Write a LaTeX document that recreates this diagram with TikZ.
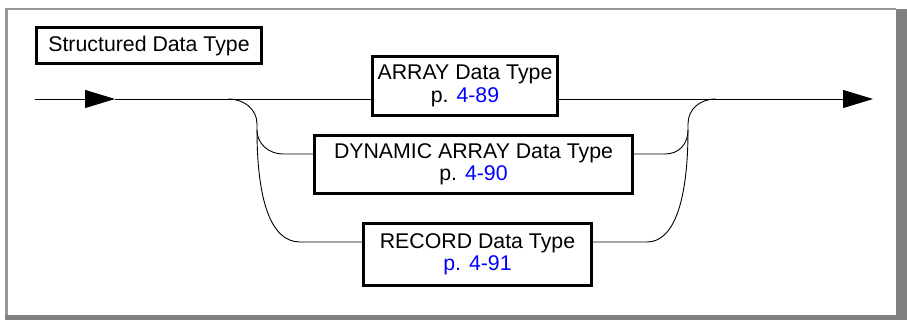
\documentclass[tikz,border=0pt]{standalone}
\usepackage{fontspec}
\setmainfont{Liberation Sans}
\usetikzlibrary{arrows.meta}
\definecolor{framegray}{RGB}{128,128,128}
\definecolor{framelight}{RGB}{150,150,150}
\definecolor{pageblue}{RGB}{0,0,255}
\newcommand{\pagelink}[1]{\textcolor{pageblue}{#1}}
\tikzset{
  synbox/.style={
    draw=black,
    line width=3.1pt,
    align=center,
    inner sep=0pt,
    font=\fontsize{21.3}{22.5}\selectfont
  },
  rail/.style={line width=0.9pt},
  head/.style={-{Triangle[length=30pt,width=18pt]}, line width=0.9pt}
}

\begin{document}
\begin{tikzpicture}[x=1pt,y=-1pt]
        \useasboundingbox (0,0) rectangle (907,320);
        \fill[white] (0,0) rectangle (907,320);
        \fill[framelight] (5,8) rectangle (896,10);
        \fill[framelight] (5,8) rectangle (8,315);
        \fill[framegray] (896,9) rectangle (907,320);
        \fill[framegray] (5,315) rectangle (907,320);

        \node[synbox, minimum width=225pt, minimum height=36pt] (sdt) at (149,45.5) {Structured Data Type};
        \node[synbox, minimum width=185pt, minimum height=59pt] (arr) at (465,86) {ARRAY Data Type\\p. \pagelink{4-89}};
        \node[synbox, minimum width=318pt, minimum height=58pt] (dyn) at (473.5,164.5) {DYNAMIC ARRAY Data Type\\p. \pagelink{4-90}};
        \node[synbox, minimum width=228pt, minimum height=62pt] (rec) at (477.5,254.5) {RECORD Data Type\\\pagelink{p. 4-91}};

        \coordinate (in) at (35,99);
        \coordinate (tipL) at (115,99);
        \coordinate (tipR) at (873,99);
        \coordinate (splitL) at (228,99);
        \coordinate (splitR) at (716,99);
        \coordinate (vL1) at (257,124);
        \coordinate (vL2) at (257,130);
        \coordinate (vR1) at (688,124);
        \coordinate (vR2) at (688,130);
        \coordinate (dynL) at (283,154);
        \coordinate (dynR) at (665,154);
        \coordinate (recL) at (300,242);
        \coordinate (recR) at (647,242);

        \draw[head] (in) -- (tipL);
        \draw[rail] (tipL) -- (arr.west |- tipL);
        \draw[head] (arr.east |- tipL) -- (tipR);
        \draw[rail] (splitL) .. controls +(16,0) and +(0,-15) .. (vL1) -- (vL2)
          .. controls +(0,14) and +(-14,0) .. (dynL) -- (dyn.west |- dynL);
        \draw[rail] (vL2) .. controls +(0,68) and +(-30,0) .. (recL) -- (rec.west |- recL);
        \draw[rail] (dyn.east |- dynR) -- (dynR) .. controls +(14,0) and +(0,14) .. (vR2)
          -- (vR1) .. controls +(0,-15) and +(-16,0) .. (splitR);
        \draw[rail] (rec.east |- recR) -- (recR) .. controls +(28,0) and +(0,68) .. (vR2);
      \end{tikzpicture}
\end{document}
